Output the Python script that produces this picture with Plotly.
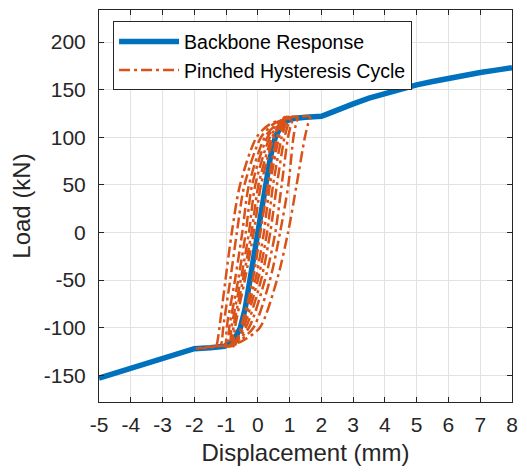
import plotly.graph_objects as go

# ---------------- data ----------------
backbone_x = [-5, -4.5, -4, -3.5, -3, -2.5, -2.2, -2, -1.5, -1.05, -0.85, -0.7, -0.55, -0.4,
              0, 0.4, 0.55, 0.7, 0.85, 1.05, 1.5, 2, 2.2, 2.5, 3, 3.5, 4, 4.5, 5, 5.5, 6,
              6.5, 7, 7.5, 8]
backbone_y = [-153, -148, -143, -138.5, -133.5, -128.5, -124.5, -122, -121, -119.5, -116,
              -110, -100, -80, 0, 80, 100, 110, 116, 119.5, 121, 122, 124.5, 129, 135, 141,
              146, 150.5, 155, 158.5, 162, 165, 168, 170.5, 173]

# load levels at which each hysteresis branch was read
up_branch_y = [-119.5, -118.5, -114, -100, -50, 0, 50, 100, 114, 121.5]      # rising (right) branch
down_branch_y = [121.5, 119, 114, 100, 50, 0, -50, -100, -114, -119.5]       # falling (left) branch

# displacement of each loop (outer -> inner) on the rising branch
up_branch_x = [
    [-1.32, -0.95, -0.50, 0.06, 0.60, 0.95, 1.22, 1.48, 1.58, 1.64],
    [-1.15, -0.90, -0.60, -0.14, 0.38, 0.70, 0.96, 1.12, 1.20, 1.25],
    [-1.02, -0.85, -0.65, -0.28, 0.22, 0.55, 0.75, 0.95, 1.05, 1.12],
    [-0.95, -0.82, -0.68, -0.38, 0.10, 0.39, 0.60, 0.84, 0.96, 1.03],
    [-0.88, -0.78, -0.68, -0.45, 0.00, 0.29, 0.48, 0.75, 0.88, 0.96],
    [-0.82, -0.75, -0.68, -0.50, -0.08, 0.19, 0.38, 0.67, 0.82, 0.90],
    [-0.78, -0.72, -0.66, -0.53, -0.16, 0.08, 0.32, 0.60, 0.77, 0.86],
]
# displacement of each loop (outer -> inner) on the falling branch
down_branch_x = [
    [1.64, 0.91, 0.39, -0.04, -0.56, -0.82, -1.02, -1.21, -1.27, -1.32],
    [1.25, 0.85, 0.50, 0.10, -0.42, -0.66, -0.87, -1.09, -1.13, -1.15],
    [1.12, 0.85, 0.60, 0.22, -0.28, -0.49, -0.72, -0.98, -1.00, -1.02],
    [1.03, 0.83, 0.65, 0.30, -0.18, -0.38, -0.62, -0.90, -0.93, -0.95],
    [0.96, 0.82, 0.68, 0.38, -0.08, -0.28, -0.54, -0.83, -0.86, -0.88],
    [0.90, 0.80, 0.70, 0.45, 0.02, -0.20, -0.47, -0.77, -0.80, -0.82],
    [0.86, 0.78, 0.70, 0.50, 0.10, -0.13, -0.41, -0.72, -0.76, -0.78],
]
# outer loop also runs along the negative plateau to this point
outer_tail_x = -1.98
outer_tail_y = -121.8

x_ticks = list(range(-5, 9))
y_ticks = [-150, -100, -50, 0, 50, 100, 150, 200]

BLUE = "#0072BD"
ORANGE = "#D95319"
AX = "#262626"
FONT = "Liberation Sans, Arial, Helvetica, sans-serif"

fig = go.Figure()
fig.add_trace(go.Scatter(x=backbone_x, y=backbone_y, mode="lines",
                         line=dict(color=BLUE, width=5.5), name="Backbone Response"))

for i, (ux, dx) in enumerate(zip(up_branch_x, down_branch_x)):
    xs = ux + dx[1:]
    ys = up_branch_y + down_branch_y[1:]
    if i == 0:
        xs = [outer_tail_x] + xs + [outer_tail_x]
        ys = [outer_tail_y] + ys + [outer_tail_y]
    fig.add_trace(go.Scatter(x=xs, y=ys, mode="lines",
                             line=dict(color=ORANGE, width=2.5, dash="11px,4px,3px,4px",
                                       shape="spline", smoothing=0.8),
                             name="Pinched Hysteresis Cycle", legendgroup="hyst",
                             showlegend=(i == 0)))

axis_common = dict(showline=True, linecolor=AX, linewidth=1, mirror="ticks",
                   ticks="inside", ticklen=5, tickcolor=AX, tickwidth=1,
                   showgrid=True, gridcolor="#e2e2e2", gridwidth=1, zeroline=False,
                   tickfont=dict(family=FONT, size=21, color=AX))

fig.update_xaxes(range=[-5, 8], tickvals=x_ticks, ticktext=[str(v) for v in x_ticks],
                 title=dict(text="Displacement (mm)", font=dict(family=FONT, size=24, color=AX),
                            standoff=8),
                 ticklabelstandoff=4, **axis_common)
fig.update_yaxes(range=[-178, 233.6], tickvals=y_ticks, ticktext=[str(v) for v in y_ticks],
                 title=dict(text="Load (kN)", font=dict(family=FONT, size=24, color=AX),
                            standoff=6),
                 ticklabelstandoff=8, **axis_common)

fig.update_layout(
    width=527, height=475,
    margin=dict(l=99, r=10, t=9, b=73),
    paper_bgcolor="white", plot_bgcolor="white",
    font=dict(family=FONT, color=AX),
    legend=dict(x=0.034, y=0.971, xanchor="left", yanchor="top",
                bgcolor="white", bordercolor=AX, borderwidth=1,
                font=dict(family=FONT, size=19.5, color="#000000"),
                itemwidth=60, tracegroupgap=0),
)

fig.write_html("out.html")
